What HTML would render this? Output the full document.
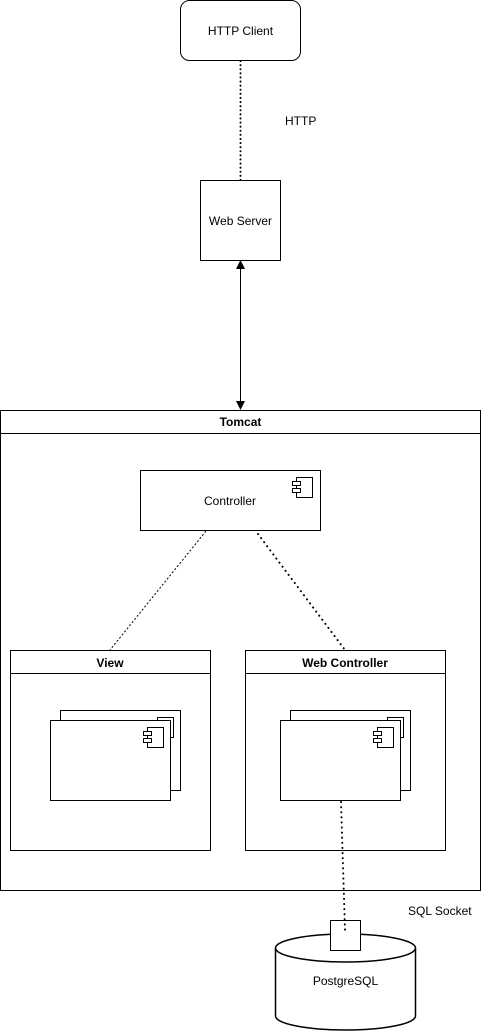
<!DOCTYPE html>
<html><head><meta charset="utf-8"><style>
html,body{margin:0;padding:0;background:#fff}
svg{display:block}
text{font-family:"Liberation Sans",Arial,sans-serif;font-size:12px;fill:#000}
</style></head><body>
<svg width="481" height="1032" viewBox="0 0 481 1032" xmlns="http://www.w3.org/2000/svg">
<g fill="none" stroke="#000" stroke-width="1">
<rect x="180.5" y="0.5" width="120" height="60" rx="9"/>
<line x1="240.5" y1="61" x2="240.5" y2="180" stroke-width="2" stroke-dasharray="0.1 4" stroke-linecap="round"/>
<rect x="200.5" y="180.5" width="80" height="80"/>
<line x1="240.5" y1="268" x2="240.5" y2="402"/>
<rect x="0.5" y="410.5" width="480" height="480"/>
<line x1="0.5" y1="433.5" x2="480.5" y2="433.5"/>
<rect x="140.5" y="470.5" width="180" height="60"/>
<rect x="296.5" y="477.5" width="16" height="20"/>
<rect x="292.5" y="481.5" width="8" height="4" fill="#fff"/>
<rect x="292.5" y="488.5" width="8" height="4" fill="#fff"/>
<line x1="206" y1="531" x2="110" y2="650" stroke-dasharray="2 2"/>
<line x1="258" y1="534" x2="345" y2="650" stroke-width="2" stroke-dasharray="0.1 5" stroke-linecap="round"/>
<rect x="10.5" y="650.5" width="200" height="200"/>
<line x1="10.5" y1="673.5" x2="210.5" y2="673.5"/>
<rect x="60.5" y="710.5" width="120" height="80"/>
<rect x="157.5" y="717.5" width="16" height="20"/>
<rect x="50.5" y="720.5" width="120" height="80" fill="#fff"/>
<rect x="147.5" y="727.5" width="16" height="20"/>
<rect x="143.5" y="731.5" width="8" height="4" fill="#fff"/>
<rect x="143.5" y="738.5" width="8" height="4" fill="#fff"/>
<rect x="245.5" y="650.5" width="200" height="200"/>
<line x1="245.5" y1="673.5" x2="445.5" y2="673.5"/>
<rect x="290.5" y="710.5" width="120" height="80"/>
<rect x="387.5" y="717.5" width="16" height="20"/>
<rect x="280.5" y="720.5" width="120" height="80" fill="#fff"/>
<rect x="377.5" y="727.5" width="16" height="20"/>
<rect x="373.5" y="731.5" width="8" height="4" fill="#fff"/>
<rect x="373.5" y="738.5" width="8" height="4" fill="#fff"/>
<path d="M275.5 948 A70 14 0 0 1 415.5 948 L415.5 1016 A70 14 0 0 1 275.5 1016 Z" fill="#fff" stroke-width="1.5"/>
<path d="M275.5 948 A70 14 0 0 0 415.5 948" stroke-width="1.5"/>
<rect x="330.5" y="920.5" width="30" height="30" fill="#fff"/>
<line x1="341" y1="802" x2="345" y2="930" stroke-width="2" stroke-dasharray="0.1 5" stroke-linecap="round"/>
</g>
<polygon points="240.5,260 236,269 245,269" fill="#000"/>
<polygon points="240.5,410 236,401 245,401" fill="#000"/>
<text x="240.5" y="35" text-anchor="middle">HTTP Client</text>
<text x="285" y="125">HTTP</text>
<text x="240.5" y="225" text-anchor="middle">Web Server</text>
<text x="240.5" y="426" text-anchor="middle" font-weight="bold">Tomcat</text>
<text x="230" y="505" text-anchor="middle">Controller</text>
<text x="110" y="667" text-anchor="middle" font-weight="bold">View</text>
<text x="345" y="667" text-anchor="middle" font-weight="bold">Web Controller</text>
<text x="408" y="915">SQL Socket</text>
<text x="345.5" y="985" text-anchor="middle">PostgreSQL</text>
</svg>
</body></html>
